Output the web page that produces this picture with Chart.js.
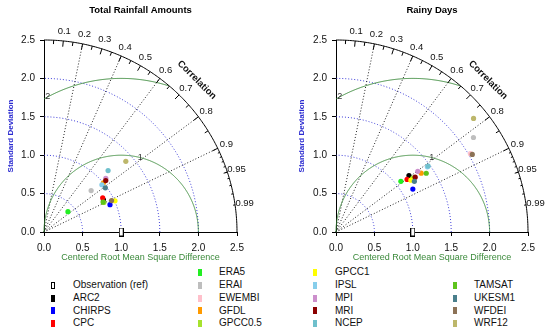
<!DOCTYPE html>
<html>
<head>
<meta charset="utf-8">
<script src="https://cdn.jsdelivr.net/npm/chart.js@4.4.1/dist/chart.umd.min.js"></script>
<style>
    html, body { margin: 0; padding: 0; background: #fff; }
    body { width: 550px; height: 335px; position: relative; overflow: hidden;
           font-family: "Liberation Sans", Arial, Helvetica, sans-serif; }
    canvas { position: absolute; top: 0; }
    .lg-mark { position: absolute; width: 4px; height: 7px; }
    .lg-text { position: absolute; font-size: 10px; line-height: 12px; color: #111; white-space: nowrap; }
</style>
</head>
<body>
<canvas id="rainChart" width="275" height="265" style="left:0"></canvas>
<canvas id="daysChart" width="275" height="265" style="left:275px"></canvas>
<div id="legend"></div>
<script>
// models, in legend order
const models = ['ARC2', 'CHIRPS', 'CPC', 'ERA5', 'ERAI', 'EWEMBI', 'GFDL', 'GPCC0.5', 'GPCC1',
    'IPSL', 'MPI', 'MRI', 'NCEP', 'TAMSAT', 'UKESM1', 'WFDEI', 'WRF12'];
const modelColors = ['#000000', '#0000ff', '#ff0000', '#22ee22', '#bebebe', '#ffc0cb', '#ff9a00', '#a6e22e', '#ffff00',
    '#87ceeb', '#cc8fcc', '#8b0000', '#6fc0cc', '#5ec41c', '#4a7f8c', '#8c7256', '#bdb76b'];

// normalised standard deviation and correlation, total rainfall amounts
const rainSd   = [0.877, 0.926, 0.881, 0.408, 0.815, 1.050, 1.001, 0.865, 1.005,
                  0.970, 1.063, 1.043, 1.153, 0.859, 0.981, 0.966, 1.404];
const rainCorr = [0.878, 0.923, 0.863, 0.760, 0.749, 0.762, 0.769, 0.896, 0.915,
                  0.773, 0.753, 0.767, 0.720, 0.891, 0.810, 0.906, 0.755];

// rainy days
const daysSd   = [1.201, 1.146, 1.151, 1.072, 2.172, 2.026, 1.348, 1.221, 1.186,
                  1.462, 1.326, 1.254, 1.476, 1.402, 1.215, 2.042, 2.323];
const daysCorr = [0.791, 0.873, 0.804, 0.788, 0.824, 0.864, 0.823, 0.819, 0.822,
                  0.814, 0.803, 0.822, 0.813, 0.838, 0.840, 0.869, 0.771];

const refSd = 1.0;
const maxSd = 2.5;
const axisTicks = [0, 0.5, 1, 1.5, 2, 2.5];
const corrLabels = [0.1, 0.2, 0.3, 0.4, 0.5, 0.6, 0.7, 0.8, 0.9, 0.95, 0.99];
const corrMajor = [0.1, 0.2, 0.3, 0.4, 0.5, 0.6, 0.7, 0.8, 0.9];
const corrMedium = [0.05, 0.15, 0.25, 0.35, 0.45, 0.55, 0.65, 0.75, 0.85, 0.95];
const corrFine = [0.91, 0.92, 0.93, 0.94, 0.95, 0.96, 0.97, 0.98, 0.99];
const corrLines = [0.2, 0.4, 0.6, 0.8, 0.9];
const sdArcs = [0.5, 1, 1.5, 2];
const rmsArcs = [1, 2];

const FONT = '"Liberation Sans", Arial, Helvetica, sans-serif';
const GREEN = '#3b8a3b';
const BLUE = '#3c3cd8';

// hollow bar used for the reference point
const refMarker = document.createElement('canvas');
refMarker.width = 5;
refMarker.height = 9;
(() => {
    const m = refMarker.getContext('2d');
    m.fillStyle = '#000';
    m.fillRect(0, 0, 5, 9);
    m.fillStyle = '#fff';
    m.fillRect(1, 1, 3, 7);
})();

function taylorPoints(sd, corr) {
    return sd.map((s, i) => ({ x: s * corr[i], y: s * Math.sqrt(1 - corr[i] * corr[i]) }));
}

// grid of the Taylor diagram: sd arcs, correlation rays, rms arcs, outer arc
const taylorGrid = {
    id: 'taylorGrid',
    beforeDatasetsDraw(chart, args, opts) {
        const { ctx, chartArea, scales: { x, y } } = chart;
        const P = (vx, vy) => [x.getPixelForValue(vx), y.getPixelForValue(vy)];
        const polar = (r, a) => P(r * Math.cos(a), r * Math.sin(a));

        ctx.save();
        ctx.lineWidth = 1;

        // standard deviation arcs
        ctx.setLineDash([1, 2]);
        ctx.strokeStyle = BLUE;
        sdArcs.forEach(r => {
            ctx.beginPath();
            for (let i = 0; i <= 120; i++) {
                const [px, py] = polar(r, i / 120 * Math.PI / 2);
                i ? ctx.lineTo(px, py) : ctx.moveTo(px, py);
            }
            ctx.stroke();
        });

        // correlation rays
        ctx.strokeStyle = '#222';
        corrLines.forEach(c => {
            ctx.beginPath();
            ctx.moveTo(...P(0, 0));
            ctx.lineTo(...polar(maxSd, Math.acos(c)));
            ctx.stroke();
        });
        ctx.setLineDash([]);

        // centred rms difference arcs around the reference
        ctx.strokeStyle = GREEN;
        rmsArcs.forEach(r => {
            ctx.beginPath();
            let on = false;
            for (let i = 0; i <= 720; i++) {
                const a = i / 720 * Math.PI;
                const vx = refSd + r * Math.cos(a), vy = r * Math.sin(a);
                if (vx < 0 || vx * vx + vy * vy > maxSd * maxSd) { on = false; continue; }
                const [px, py] = P(vx, vy);
                on ? ctx.lineTo(px, py) : ctx.moveTo(px, py);
                on = true;
            }
            ctx.stroke();
        });
        ctx.fillStyle = '#333';
        ctx.font = '9px ' + FONT;
        ctx.textAlign = 'center';
        ctx.textBaseline = 'middle';
        const rmsLabelAngle = { 1: 75.7, 2: 118.4 };
        rmsArcs.forEach(r => {
            const a = rmsLabelAngle[r] * Math.PI / 180;
            ctx.fillText(String(r), ...P(refSd + r * Math.cos(a), r * Math.sin(a)));
        });

        // outer arc
        ctx.strokeStyle = '#000';
        ctx.beginPath();
        for (let i = 0; i <= 180; i++) {
            const [px, py] = polar(maxSd, i / 180 * Math.PI / 2);
            i ? ctx.lineTo(px, py) : ctx.moveTo(px, py);
        }
        ctx.stroke();

        // correlation ticks
        const tick = (list, k) => list.forEach(c => {
            const a = Math.acos(c);
            ctx.beginPath();
            ctx.moveTo(...polar(maxSd, a));
            ctx.lineTo(...polar(maxSd * k, a));
            ctx.stroke();
        });
        tick(corrMajor, 0.97);
        tick(corrMedium, 0.98);
        tick(corrFine, 0.99);

        // correlation labels
        ctx.fillStyle = '#111';
        ctx.font = '9.5px ' + FONT;
        corrLabels.forEach(c => {
            ctx.fillText(String(c), ...polar(maxSd * 1.05, Math.acos(c)));
        });

        ctx.font = 'bold 9.5px ' + FONT;
        const ca = Math.PI / 4;
        const [cx, cy] = polar(maxSd * 1.12, ca);
        ctx.save();
        ctx.translate(cx, cy);
        ctx.rotate(Math.PI / 2 - ca);
        ctx.fillText('Correlation', 0, 0);
        ctx.restore();

        // panel title
        ctx.fillStyle = '#000';
        ctx.font = 'bold 9.5px ' + FONT;
        ctx.fillText(opts.title, (chartArea.left + chartArea.right) / 2, 10);

        ctx.restore();
    }
};

function buildPanel(canvasId, title, sd, corr, padLeft, padRight, axisWidth) {
    const canvas = document.getElementById(canvasId);
    return new Chart(canvas, {
        type: 'scatter',
        data: {
            datasets: [{
                label: 'Observation (ref)',
                data: [{ x: refSd, y: 0 }],
                pointStyle: refMarker,
                clip: false
            }, {
                label: 'models',
                data: taylorPoints(sd, corr),
                pointBackgroundColor: modelColors,
                pointBorderWidth: 0,
                pointRadius: 2.6,
                clip: false
            }]
        },
        options: {
            responsive: false,
            animation: false,
            events: [],
            layout: { padding: { top: 40, left: padLeft, right: padRight, bottom: 0 } },
            plugins: {
                legend: { display: false },
                tooltip: { enabled: false },
                taylorGrid: { title: title }
            },
            scales: {
                x: {
                    type: 'linear', min: 0, max: maxSd,
                    afterBuildTicks: s => { s.ticks = axisTicks.map(v => ({ value: v })); },
                    afterFit: s => { s.height = 33; },
                    grid: { drawOnChartArea: false, drawTicks: true, tickLength: 4, color: '#000' },
                    border: { display: true, color: '#000' },
                    ticks: {
                        color: '#111', font: { family: FONT, size: 10 }, padding: 6,
                        maxRotation: 0, autoSkip: false, callback: v => v.toFixed(1)
                    },
                    title: {
                        display: true, text: 'Centered Root Mean Square Difference', color: GREEN,
                        font: { family: FONT, size: 9 }, padding: { top: 0, bottom: 2 }
                    }
                },
                y: {
                    type: 'linear', min: 0, max: maxSd,
                    afterBuildTicks: s => { s.ticks = axisTicks.map(v => ({ value: v })); },
                    afterFit: s => { s.width = axisWidth; },
                    grid: { drawOnChartArea: false, drawTicks: true, tickLength: 4, color: '#000' },
                    border: { display: true, color: '#000' },
                    ticks: {
                        color: '#111', font: { family: FONT, size: 10 }, padding: 5,
                        autoSkip: false, callback: v => v.toFixed(1)
                    },
                    title: {
                        display: true, text: 'Standard Deviation', color: '#2b2bd0',
                        font: { family: FONT, size: 8, weight: 'bold' }, padding: { top: 6, bottom: 0 }
                    }
                }
            }
        },
        plugins: [taylorGrid]
    });
}

// shared legend under both panels
function buildLegend() {
    const box = document.getElementById('legend');
    const markX = [53, 200, 315, 455];
    const textX = [73, 219, 335, 474];
    const rowY = [272, 285, 298, 310.5, 323];
    const entries = [{ name: 'Observation (ref)', ref: true }]
        .concat(models.map((m, i) => ({ name: m, color: modelColors[i] })));
    // columns hold 4, 5, 5, 4 entries; the short ones start on the second row
    const slots = [];
    [[0, 1], [1, 0], [2, 0], [3, 1]].forEach(([col, start], k) => {
        const n = (k === 0 || k === 3) ? 4 : 5;
        for (let r = 0; r < n; r++) slots.push([col, start + r]);
    });
    entries.forEach((e, i) => {
        const [col, row] = slots[i];
        const mark = document.createElement('span');
        mark.className = 'lg-mark';
        mark.style.left = (markX[col] - 2) + 'px';
        mark.style.top = (rowY[row] - 3.5) + 'px';
        if (e.ref) {
            mark.style.boxSizing = 'border-box';
            mark.style.border = '1px solid #000';
            mark.style.background = '#fff';
        } else {
            mark.style.background = e.color;
        }
        box.appendChild(mark);
        const txt = document.createElement('span');
        txt.className = 'lg-text';
        txt.style.left = textX[col] + 'px';
        txt.style.top = (rowY[row] - 6) + 'px';
        txt.textContent = e.name;
        box.appendChild(txt);
    });
}

document.addEventListener('DOMContentLoaded', () => {
    buildPanel('rainChart', 'Total Rainfall Amounts', rainSd, rainCorr, 0, 38, 44);
    buildPanel('daysChart', 'Rainy Days', daysSd, daysCorr, 16, 22, 45);
    buildLegend();
});
</script>
</body>
</html>
